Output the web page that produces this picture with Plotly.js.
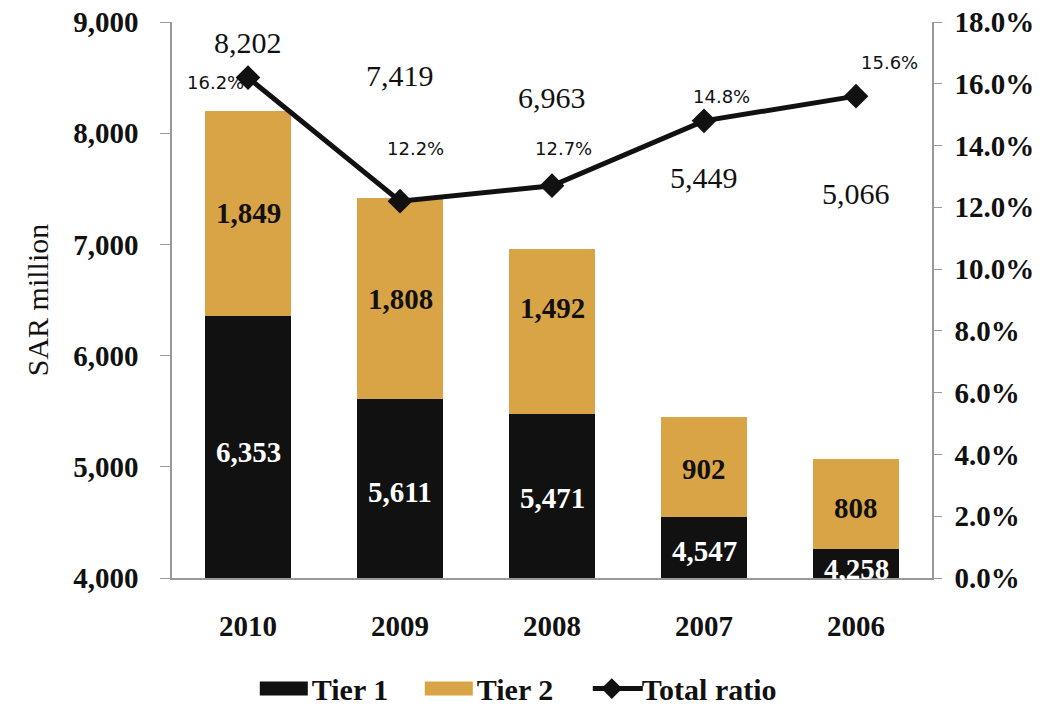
<!DOCTYPE html>
<html>
<head>
<meta charset="utf-8">
<script src="https://cdn.plot.ly/plotly-3.0.1.min.js"></script>
<style>html,body{margin:0;padding:0;background:#fff;}#chart{width:1048px;height:715px;}#err{position:absolute;left:300px;top:300px;color:red;font:14px sans-serif;}</style>
</head>
<body>
<div id="chart"></div>
<div id="err"></div>
<script>
window.onerror = function (m) { document.getElementById('err').textContent += ' ' + m; };
// ---- data ----
const years = ['2010', '2009', '2008', '2007', '2006'];
const tier1 = [6353, 5611, 5471, 4547, 4258];
const tier2 = [1849, 1808, 1492, 902, 808];
const totals = [8202, 7419, 6963, 5449, 5066];
const totalRatio = [16.2, 12.2, 12.7, 14.8, 15.6];
const tier1Labels = ['6,353', '5,611', '5,471', '4,547', '4,258'];
const tier2Labels = ['1,849', '1,808', '1,492', '902', '808'];
const totalLabels = ['8,202', '7,419', '6,963', '5,449', '5,066'];
const ratioLabels = ['16.2%', '12.2%', '12.7%', '14.8%', '15.6%'];

// label placement (data units)
const tier1LabelY = [5130, 4770, 4715, 4240, 4080];
const tier2LabelY = [7280, 6510, 6430, 4980, 4630];
const totalLabelY = [8820, 8520, 8320, 7600, 7460];
const ratioLabelY = [16.05, 13.9, 13.9, 15.6, 16.7];
const ratioLabelShift = [-33, 15, 11, 17, 33];

// category positions on the x axis (one slot per year)
const slots = years.map(function (_, i) { return i; });

const serif = 'Liberation Serif, Times New Roman, serif';
const tan = '#D9A445';
const ink = '#111111';

const traces = [
  {type: 'bar', name: 'Tier 1', x: slots, y: tier1, marker: {color: ink}},
  {type: 'bar', name: 'Tier 2', x: slots, y: tier2, marker: {color: tan}},
  {type: 'scatter', mode: 'lines+markers', name: 'Total ratio', x: slots, y: totalRatio, yaxis: 'y2',
   line: {color: ink, width: 5}, marker: {symbol: 'diamond', size: 19, color: ink}}
];

const ann = [];
slots.forEach(function (xv, i) {
  ann.push({x: xv, y: tier1LabelY[i], xref: 'x', yref: 'y', text: tier1Labels[i], showarrow: false,
            font: {family: serif, size: 29, color: '#ffffff', weight: 'bold'}});
  ann.push({x: xv, y: tier2LabelY[i], xref: 'x', yref: 'y', text: tier2Labels[i], showarrow: false,
            font: {family: serif, size: 29, color: ink, weight: 'bold'}});
  ann.push({x: xv, y: totalLabelY[i], xref: 'x', yref: 'y', text: totalLabels[i], showarrow: false,
            font: {family: serif, size: 30, color: ink}});
  ann.push({x: xv, y: ratioLabelY[i], xref: 'x', yref: 'y2', text: ratioLabels[i], showarrow: false, xshift: ratioLabelShift[i],
            font: {family: 'DejaVu Sans, sans-serif', size: 18, color: ink}});
});

const tickFont = {family: serif, size: 29, color: ink, weight: 'bold'};

const layout = {
  width: 1048, height: 715,
  margin: {l: 172, r: 116, t: 22, b: 137, autoexpand: false},
  paper_bgcolor: '#ffffff', plot_bgcolor: '#ffffff',
  barmode: 'stack', bargap: 0.43,
  showlegend: true,
  hovermode: false,
  legend: {orientation: 'h', x: 0.105, xanchor: 'left', y: 0.037, yref: 'container', yanchor: 'middle',
           font: {family: serif, size: 30, color: ink, weight: 'bold'}, traceorder: 'normal',
           itemwidth: 50, entrywidth: 100, bgcolor: 'rgba(0,0,0,0)'},
  xaxis: {range: [-0.5, 4.5], tickvals: slots, ticktext: years, showline: true, linecolor: '#999999', linewidth: 1.5,
          ticks: 'outside', ticklen: 21, tickcolor: 'rgba(0,0,0,0)', showgrid: false, zeroline: false,
          tickfont: tickFont, automargin: false},
  yaxis: {range: [4000, 9000], dtick: 1000, tickformat: ',d', showline: true, linecolor: '#999999', linewidth: 1.5,
          ticks: 'outside', ticklen: 10, tickcolor: '#999999', showgrid: false, zeroline: false,
          tickfont: tickFont, ticklabelstandoff: 16, automargin: false,
          title: {text: 'SAR million', font: {family: serif, size: 30, color: ink}, standoff: 16}},
  yaxis2: {overlaying: 'y', side: 'right', range: [0, 18], dtick: 2, tickformat: '.1f', ticksuffix: '%',
           showline: true, linecolor: '#999999', linewidth: 1.5, ticks: 'outside', ticklen: 8, tickcolor: '#999999',
           showgrid: false, zeroline: false, tickfont: tickFont, ticklabelstandoff: 7, automargin: false},
  annotations: ann
};

Plotly.newPlot('chart', traces, layout, {displayModeBar: false}).then(function (gd) {
  // let the last legend label run past its fixed entry width
  gd.querySelectorAll('.legend [clip-path]').forEach(function (el) { el.removeAttribute('clip-path'); });
  // widen the legend swatches to match the reference
  gd.querySelectorAll('.legend .traces').forEach(function (tr, i) {
    if (i < 2) {
      tr.querySelectorAll('.legendpoints path').forEach(function (p) {
        p.setAttribute('d', 'M-22,-7H26V7H-22Z');
      });
    } else {
      tr.querySelectorAll('.legendlines path').forEach(function (p) {
        p.setAttribute('d', 'M11,0h50');
      });
    }
  });
}).catch(function (e) { document.getElementById('err').textContent += ' ' + e; });
</script>
</body>
</html>
